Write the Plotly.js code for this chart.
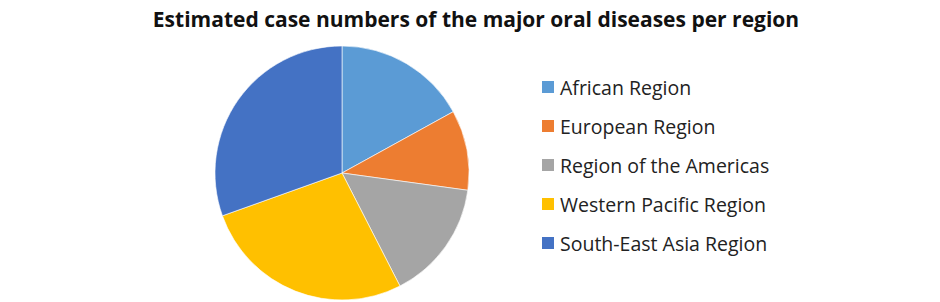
<!DOCTYPE html>
<html><head><meta charset="utf-8">
<script src="https://cdn.plot.ly/plotly-3.0.1.min.js"></script>
<style>html,body{margin:0;padding:0;background:#fff;}#chart{width:940px;height:302px;}</style>
</head><body><div id="chart"></div>
<script>
const categories = ["African Region", "European Region", "Region of the Americas", "Western Pacific Region", "South-East Asia Region"];
const shares = [17.0, 10.2, 15.3, 27.1, 30.5];
const colors = ["#5B9BD5", "#ED7D31", "#A5A5A5", "#FFC000", "#4472C4"];
const titleText = "Estimated case numbers of the major oral diseases per region";

const W = 940, H = 302;
const FONT = "Open Sans, sans-serif";

const trace = {
  type: "pie",
  labels: categories,
  values: shares,
  sort: false,
  direction: "clockwise",
  rotation: 0,
  textinfo: "none",
  hoverinfo: "label+percent",
  marker: {colors: colors, line: {color: "#ffffff", width: 0.6}},
  domain: {x: [215 / W, 469 / W], y: [(H - 300) / H, (H - 46) / H]},
  showlegend: false
};

// legend drawn as layout annotations + squares
const legX = 542, legTextX = 558, legY0 = 87, legStep = 39, sq = 12;
const shapes = [], annotations = [];
categories.forEach((c, i) => {
  const cy = legY0 + i * legStep;
  shapes.push({type: "rect", xref: "paper", yref: "paper",
    x0: legX / W, x1: (legX + sq) / W, y0: (H - cy - sq / 2) / H, y1: (H - cy + sq / 2) / H,
    fillcolor: colors[i], line: {width: 0}});
  annotations.push({xref: "paper", yref: "paper", x: legTextX / W, y: (H - cy) / H,
    xanchor: "left", yanchor: "middle", showarrow: false, text: c,
    font: {family: FONT, size: 19.5, color: "#222222"}});
});

const layout = {
  width: W, height: H,
  margin: {l: 0, r: 0, t: 0, b: 0},
  paper_bgcolor: "#ffffff",
  title: {text: "<b>" + titleText + "</b>", x: 476 / W, xanchor: "center", y: 1 - 20 / H, yanchor: "middle",
    font: {family: FONT, size: 21, color: "#111111"}},
  shapes: shapes,
  annotations: annotations,
  showlegend: false
};
Plotly.newPlot("chart", [trace], layout, {displayModeBar: false, staticPlot: true});
</script></body></html>
